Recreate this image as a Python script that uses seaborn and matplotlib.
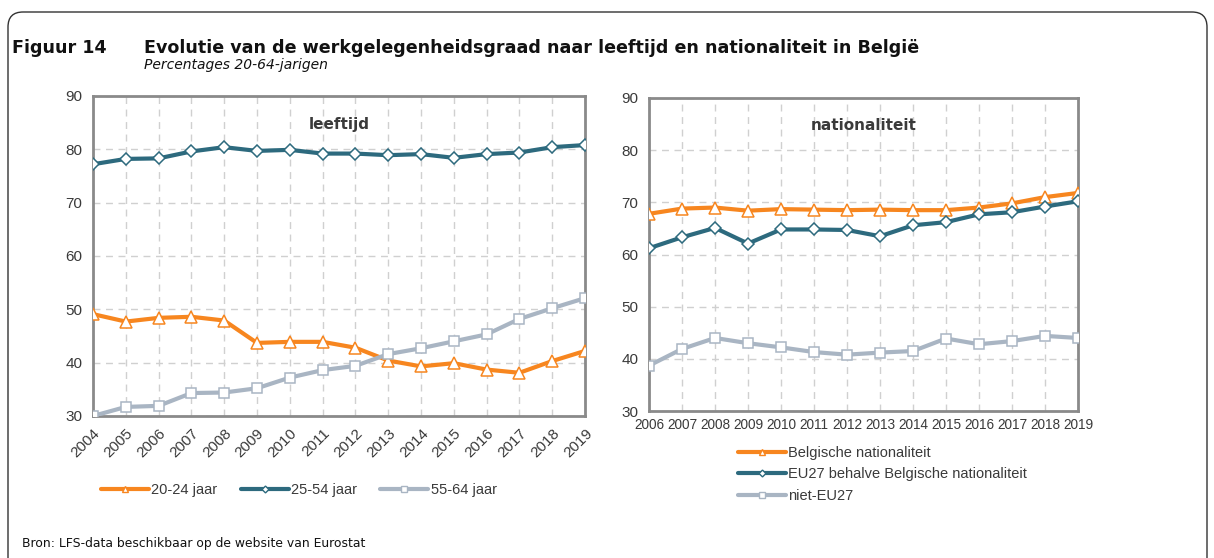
import matplotlib

matplotlib.use("Agg")
import matplotlib.pyplot as plt
import matplotlib.patches as mpatches
from matplotlib.lines import Line2D
import pandas as pd
import seaborn as sns

# Left panel: employment rate by age group
years_age = list(range(2004, 2020))
age_20_24 = [49.1, 47.7, 48.4, 48.6, 47.9, 43.7, 43.9, 43.9, 42.8, 40.4, 39.3, 39.9, 38.7, 38.1, 40.3, 42.2]
age_25_54 = [77.2, 78.2, 78.3, 79.6, 80.4, 79.7, 79.9, 79.2, 79.2, 78.9, 79.1, 78.4, 79.1, 79.4, 80.4, 80.8]
age_55_64 = [30.0, 31.7, 31.9, 34.3, 34.4, 35.2, 37.2, 38.6, 39.4, 41.6, 42.7, 44.0, 45.3, 48.2, 50.2, 52.1]

# Right panel: employment rate by nationality
years_nat = list(range(2006, 2020))
nat_be = [67.8, 68.8, 69.0, 68.4, 68.7, 68.6, 68.5, 68.6, 68.5, 68.5, 69.0, 69.8, 71.0, 71.8]
nat_eu = [61.2, 63.3, 65.1, 62.1, 64.8, 64.8, 64.7, 63.5, 65.6, 66.2, 67.7, 68.1, 69.2, 70.2]
nat_non_eu = [38.7, 41.9, 44.0, 43.0, 42.2, 41.3, 40.8, 41.2, 41.5, 43.9, 42.8, 43.4, 44.4, 44.0]

labels_age = ["20-24 jaar", "25-54 jaar", "55-64 jaar"]
labels_nat = ["Belgische nationaliteit", "EU27 behalve Belgische nationaliteit", "niet-EU27"]

ORANGE = "#F7861F"
TEAL = "#2D6A7E"
GREY = "#A9B5C3"
TEXT = "#3a3a3a"
# (colour, marker, marker size)
STYLES = [(ORANGE, "^", 8.0), (TEAL, "D", 5.8), (GREY, "s", 6.6)]
TICK_FONT = "Liberation Sans"

sns.set_theme(style="white")
plt.rcParams["font.family"] = ["DejaVu Sans"]

fig = plt.figure(figsize=(12.14, 5.58), dpi=100)

# rounded frame around the whole figure
frame = mpatches.FancyBboxPatch(
    (0.08, -0.3), 11.99, 5.76,
    boxstyle="round,pad=0,rounding_size=0.15",
    transform=fig.dpi_scale_trans, fill=False, edgecolor="#333333", linewidth=1.0,
)
fig.patches.append(frame)

fig.text(0.010, 0.905, "Figuur 14", fontsize=12.6, fontweight="bold", color="#111111")
fig.text(0.119, 0.905, "Evolutie van de werkgelegenheidsgraad naar leeftijd en nationaliteit in België",
         fontsize=12.6, fontweight="bold", color="#111111")
fig.text(0.119, 0.876, "Percentages 20-64-jarigen", fontsize=10, style="italic", color="#111111")
fig.text(0.018, 0.020, "Bron: LFS-data beschikbaar op de website van Eurostat", fontsize=8.9, color="#111111")


def draw_panel(ax, years, series, labels, title):
    df = pd.DataFrame({"year": years})
    for vals, lab, (col, mk, ms) in zip(series, labels, STYLES):
        df[lab] = vals
        sns.lineplot(
            data=df, x="year", y=lab, ax=ax, color=col, linewidth=3.0,
            marker=mk, markersize=ms, markerfacecolor="white",
            markeredgecolor=col, markeredgewidth=1.1, zorder=3,
        )
    ax.set_xlim(years[0], years[-1])
    ax.set_ylim(30, 90)
    ax.set_yticks(range(30, 91, 10))
    ax.set_xticks(years)
    ax.set_xlabel("")
    ax.set_ylabel("")
    ax.grid(True, color="#d0d0d0", linestyle=(0, (5, 4)), linewidth=1.0)
    for sp in ax.spines.values():
        sp.set_color("#8a8a8a")
        sp.set_linewidth(2.0)
    ax.tick_params(axis="both", colors=TEXT, labelsize=11, length=4, width=1.5,
                   color="#8a8a8a", labelfontfamily=TICK_FONT)
    ax.set_title(title, fontsize=11, fontweight="bold", color=TEXT, y=0.87)


ax1 = fig.add_axes([0.0766, 0.2545, 0.4053, 0.5735])
draw_panel(ax1, years_age, [age_20_24, age_25_54, age_55_64], labels_age, "leeftijd")
plt.setp(ax1.get_xticklabels(), rotation=45, ha="right", rotation_mode="anchor")

ax2 = fig.add_axes([0.5346, 0.2634, 0.3534, 0.561])
draw_panel(ax2, years_nat, [nat_be, nat_eu, nat_non_eu], labels_nat, "nationaliteit")
ax2.tick_params(axis="x", pad=1, labelsize=9.8)


def handles_for(labels):
    return [
        Line2D([], [], color=col, linewidth=3.0, marker=mk, markersize=ms * 0.6,
               markerfacecolor="white", markeredgecolor=col, label=lab)
        for lab, (col, mk, ms) in zip(labels, STYLES)
    ]


legend_font = {"family": TICK_FONT, "size": 10.5}
fig.legend(handles=handles_for(labels_age), loc="center", bbox_to_anchor=(0.246, 0.122),
           ncol=3, frameon=False, prop=legend_font, handlelength=3.3, handletextpad=0.15,
           columnspacing=1.6, labelcolor=TEXT)
fig.legend(handles=handles_for(labels_nat), loc="upper left", bbox_to_anchor=(0.597, 0.224),
           ncol=1, frameon=False, prop=legend_font, handlelength=3.3, handletextpad=0.15,
           labelspacing=0.5, labelcolor=TEXT)

fig.savefig("out.png", dpi=100)
